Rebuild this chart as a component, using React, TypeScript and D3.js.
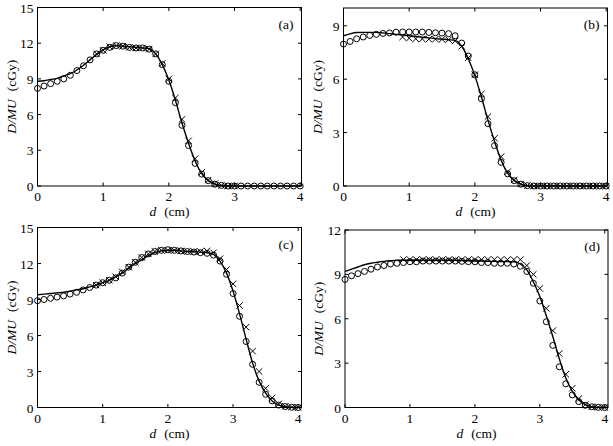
import * as React from 'react';
import * as d3 from 'd3';

// depth grid (cm), 0.1 cm steps
const dGrid = d3.range(0, 41).map(i => i / 10);

// panel (a)
const lineA = [8.8, 8.85, 8.95, 9.05, 9.25, 9.45, 9.75, 10.15, 10.6, 11.05, 11.45, 11.7, 11.8, 11.75, 11.7, 11.65, 11.6, 11.55, 11.1, 10.2,
  8.9, 7.2, 5.3, 3.6, 2.1, 1.05, 0.45, 0.15, 0.04, 0, 0, 0, 0, 0, 0, 0, 0, 0, 0, 0, 0];
const circA = [8.2, 8.4, 8.6, 8.8, 9.0, 9.3, 9.7, 10.1, 10.6, 11.1, 11.4, 11.65, 11.8, 11.75, 11.65, 11.6, 11.6, 11.5, 11.1, 10.2,
  8.8, 7.0, 5.1, 3.4, 1.9, 1.0, 0.45, 0.15, 0.05, 0, 0, 0, 0, 0, 0, 0, 0, 0, 0, 0, 0];
const crossA = [11.1, 11.4, 11.7, 11.8, 11.75, 11.65, 11.6, 11.6, 11.5, 11.1, 10.3, 9.0, 7.4, 5.6, 3.8, 2.3, 1.15, 0.5, 0.2, 0.05, 0, 0];

// panel (b)
const lineB = [8.44, 8.55, 8.62, 8.63, 8.63, 8.63, 8.6, 8.56, 8.52, 8.48, 8.44, 8.4, 8.36, 8.32, 8.28, 8.25, 8.22, 8.18, 7.85, 7.15,
  6.2, 5.0, 3.7, 2.5, 1.45, 0.72, 0.3, 0.1, 0.02, 0, 0, 0, 0, 0, 0, 0, 0, 0, 0, 0, 0];
const circB = [7.97, 8.12, 8.27, 8.37, 8.46, 8.52, 8.57, 8.6, 8.64, 8.65, 8.65, 8.65, 8.65, 8.63, 8.61, 8.59, 8.56, 8.44, 8.03, 7.3,
  6.25, 4.9, 3.5, 2.27, 1.33, 0.68, 0.3, 0.1, 0.02, 0, 0, 0, 0, 0, 0, 0, 0, 0, 0, 0, 0];
const crossB = [8.37, 8.3, 8.27, 8.26, 8.25, 8.25, 8.24, 8.22, 8.15, 7.85, 7.2, 6.25, 5.18, 3.9, 2.68, 1.65, 0.8, 0.34, 0.12, 0.03,
  0, 0, 0, 0, 0, 0, 0, 0, 0, 0, 0, 0];

// panel (c)
const lineC = [9.4, 9.45, 9.5, 9.55, 9.6, 9.7, 9.8, 9.9, 10.05, 10.2, 10.4, 10.6, 10.9, 11.2, 11.6, 12.0, 12.3, 12.65, 12.9, 13.05,
  13.1, 13.1, 13.05, 13.0, 13.0, 12.95, 12.9, 12.75, 12.2, 11.2, 9.7, 7.8, 5.7, 3.7, 2.2, 1.2, 0.55, 0.2, 0.07, 0.02, 0];
const circC = [8.9, 9.0, 9.1, 9.2, 9.3, 9.45, 9.6, 9.8, 10.0, 10.2, 10.4, 10.6, 10.8, 11.2, 11.7, 12.1, 12.5, 12.8, 13.0, 13.1,
  13.15, 13.1, 13.05, 13.0, 12.95, 12.9, 12.85, 12.7, 12.2, 11.1, 9.5, 7.6, 5.5, 3.6, 2.1, 1.1, 0.55, 0.2, 0.08, 0.02, 0];
const crossC = [10.2, 10.4, 10.6, 10.9, 11.3, 11.7, 12.1, 12.5, 12.8, 13.0, 13.1, 13.1, 13.1, 13.05, 13.0, 13.0, 13.0, 13.05, 12.9, 12.4,
  11.5, 10.3, 8.5, 6.7, 4.7, 3.0, 1.6, 0.8, 0.3, 0.1, 0.03, 0];

// panel (d)
const lineD = [9.2, 9.35, 9.5, 9.65, 9.75, 9.82, 9.88, 9.92, 9.95, 9.95, 9.95, 9.95, 9.95, 9.95, 9.95, 9.95, 9.95, 9.95, 9.93, 9.92,
  9.9, 9.9, 9.88, 9.88, 9.87, 9.86, 9.85, 9.7, 9.3, 8.5, 7.5, 6.2, 4.8, 3.3, 2.0, 1.1, 0.5, 0.2, 0.06, 0.02, 0];
const circD = [8.66, 8.9, 9.05, 9.2, 9.35, 9.5, 9.6, 9.7, 9.75, 9.8, 9.85, 9.85, 9.9, 9.9, 9.9, 9.9, 9.9, 9.9, 9.88, 9.86,
  9.85, 9.8, 9.8, 9.75, 9.75, 9.75, 9.7, 9.55, 9.2, 8.4, 7.2, 5.8, 4.2, 2.75, 1.6, 0.85, 0.4, 0.15, 0.05, 0.01, 0];
const crossD = [10.0, 10.0, 10.0, 10.0, 10.0, 10.0, 10.0, 10.0, 10.0, 10.0, 10.0, 10.0, 10.0, 10.0, 10.0, 10.0, 10.0, 10.0, 10.0, 9.6,
  9.0, 8.05, 6.7, 5.2, 3.65, 2.25, 1.3, 0.6, 0.2, 0.05, 0.01, 0];

const xTicks = [0, 1, 2, 3, 4];
const yTicks15 = [0, 3, 6, 9, 12, 15];
const yTicks9 = [0, 3, 6, 9];
const yTicks12 = [0, 3, 6, 9, 12];

const font = 'Liberation Serif, serif';

type PanelProps = {
  label: string;
  left: number; right: number; top: number; bottom: number;
  xMax: number; yMax: number; yTicks: number[];
  line: number[]; circ: number[]; cross: number[];
};

function Panel(p: PanelProps) {
  const x = d3.scaleLinear().domain([0, p.xMax]).range([p.left, p.right]);
  const y = d3.scaleLinear().domain([0, p.yMax]).range([p.bottom, p.top]);
  const path = d3.line<number>()
    .x((_, i) => x(dGrid[i]))
    .y(v => y(v))
    .curve(d3.curveMonotoneX)(p.line);
  // crosses start at 0.9 cm
  const crossD0 = dGrid.slice(9);
  const tl = 3.5;
  const cx = (p.left + p.right) / 2;
  const cy = (p.top + p.bottom) / 2;
  return (
    <g style={{ fontFamily: font }} fill="#000">
      <rect x={p.left} y={p.top} width={p.right - p.left} height={p.bottom - p.top} fill="none" stroke="#000" strokeWidth={1} />
      {xTicks.map(t => (
        <g key={'x' + t}>
          <line x1={x(t)} x2={x(t)} y1={p.bottom} y2={p.bottom - tl} stroke="#000" />
          <line x1={x(t)} x2={x(t)} y1={p.top} y2={p.top + tl} stroke="#000" />
          <text x={x(t)} y={p.bottom + 15} textAnchor="middle" fontSize={13.5}>{t}</text>
        </g>
      ))}
      {p.yTicks.map(t => (
        <g key={'y' + t}>
          <line x1={p.left} x2={p.left + tl} y1={y(t)} y2={y(t)} stroke="#000" />
          <line x1={p.right} x2={p.right - tl} y1={y(t)} y2={y(t)} stroke="#000" />
          <text x={p.left - 4} y={y(t) + 5} textAnchor="end" fontSize={13.5}>{t}</text>
        </g>
      ))}
      <text x={cx} y={p.bottom + 30} textAnchor="middle" fontSize={13.5}>
        <tspan fontStyle="italic">d</tspan>
        <tspan dx={8}>(cm)</tspan>
      </text>
      <text transform={`translate(${p.left - 22},${cy}) rotate(-90)`} textAnchor="middle" fontSize={13.5}>
        <tspan fontStyle="italic">D/MU</tspan>
        <tspan dx={8}>(cGy)</tspan>
      </text>
      <text x={p.right - 8} y={p.top + 21} textAnchor="end" fontSize={13.5}>{p.label}</text>
      <path d={path ?? ''} fill="none" stroke="#000" strokeWidth={1.4} />
      {p.circ.map((v, i) => (
        <circle key={'c' + i} cx={x(dGrid[i])} cy={y(v)} r={3} fill="none" stroke="#000" strokeWidth={1} />
      ))}
      {p.cross.map((v, i) => {
        const px = x(crossD0[i]);
        const py = y(v);
        const s = 3.2;
        return (
          <path key={'k' + i} d={`M${px - s},${py - s}L${px + s},${py + s}M${px - s},${py + s}L${px + s},${py - s}`}
            stroke="#000" strokeWidth={1} fill="none" />
        );
      })}
    </g>
  );
}

export default function App() {
  return (
    <svg width={613} height={446} style={{ display: 'block', position: 'absolute', left: 0, top: 0, background: '#fff' }}>
      <rect width={613} height={446} fill="#fff" />
      <Panel label="(a)" left={37.5} right={301.5} top={7.5} bottom={186} xMax={4.02} yMax={15} yTicks={yTicks15}
        line={lineA} circ={circA} cross={crossA} />
      <Panel label="(b)" left={343.5} right={607.5} top={8} bottom={186} xMax={4.02} yMax={10} yTicks={yTicks9}
        line={lineB} circ={circB} cross={crossB} />
      <Panel label="(c)" left={37.5} right={301.5} top={227.5} bottom={407.5} xMax={4.05} yMax={15} yTicks={yTicks15}
        line={lineC} circ={circC} cross={crossC} />
      <Panel label="(d)" left={345} right={608} top={230} bottom={407.5} xMax={4.05} yMax={12} yTicks={yTicks12}
        line={lineD} circ={circD} cross={crossD} />
    </svg>
  );
}
